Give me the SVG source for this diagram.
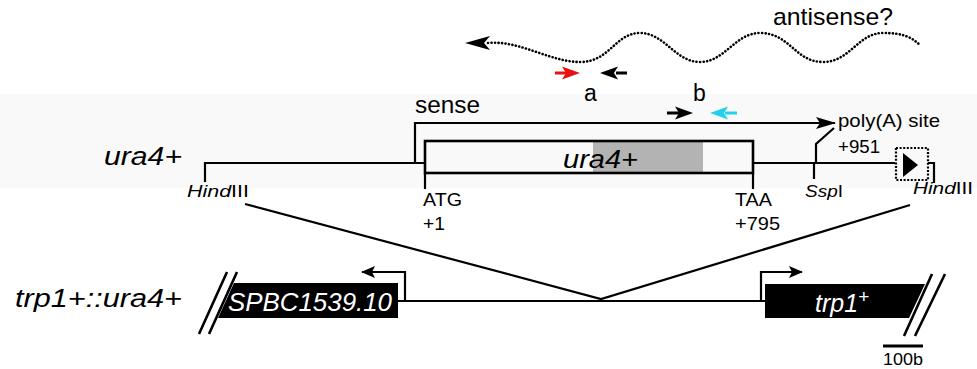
<svg xmlns="http://www.w3.org/2000/svg" width="977" height="369" viewBox="0 0 977 369">
<style>
  text { font-family: "Liberation Sans", Arial, sans-serif; fill: #000; }
  .it { font-style: italic; }
  .ln { stroke: #000; stroke-width: 2.2; fill: none; }
  .thick { stroke: #000; stroke-width: 2.6; fill: none; }
  .dots { stroke: #000; stroke-width: 2.6; fill: none; stroke-linecap: round; stroke-dasharray: 0.1 3.4; }
</style>
<defs>
  <marker id="ah" viewBox="0 0 20 12" refX="19" refY="6" markerWidth="20" markerHeight="12" markerUnits="userSpaceOnUse" orient="auto">
    <path d="M0,0 L20,6 L0,12 L4,6 Z" fill="#000"/>
  </marker>
  <marker id="ahs" viewBox="0 0 14 12" refX="13" refY="6" markerWidth="14" markerHeight="12" markerUnits="userSpaceOnUse" orient="auto">
    <path d="M0,0 L14,6 L0,12 L3,6 Z" fill="#000"/>
  </marker>
</defs>
<rect x="0" y="94" width="977" height="94" fill="#f9f9f9"/>

<g id="antisense">
  <path class="dots" d="M 488 43 C 520 40, 550 62, 580 62 C 610 62, 615 33, 640 33 C 665 33, 675 62, 700 62 C 725 62, 735 33, 760 33 C 790 33, 795 62, 823 62 C 850 62, 858 33, 883 33 C 905 33, 912 38, 920 45"/>
  <path d="M465,43 L490,36 L484,43 L490,50 Z" fill="#000"/>
  <text x="773" y="25" font-size="24" textLength="120" lengthAdjust="spacingAndGlyphs">antisense?</text>
</g>

<g id="primers-a">
  <path d="M555,73 L566,73" stroke="#e81010" stroke-width="3"/>
  <path d="M580,73 L562,66.5 L566,73 L562,79.5 Z" fill="#e81010"/>
  <path d="M616,73 L627,73" stroke="#000" stroke-width="3"/>
  <path d="M600,73 L618,66.5 L614,73 L618,79.5 Z" fill="#000"/>
  <text x="584" y="101" font-size="23">a</text>
</g>
<g id="primers-b">
  <path d="M667,113 L679,113" stroke="#000" stroke-width="3"/>
  <path d="M693,113 L675,106.5 L679,113 L675,119.5 Z" fill="#000"/>
  <path d="M725,113 L737,113" stroke="#22d0ec" stroke-width="3"/>
  <path d="M710,113 L728,106.5 L724,113 L728,119.5 Z" fill="#22d0ec"/>
  <text x="693" y="101" font-size="23">b</text>
</g>

<g id="sense">
  <path class="ln" d="M415,163 L415,123 L835,123" marker-end="url(#ah)"/>
  <text x="415" y="113" font-size="23" textLength="65" lengthAdjust="spacingAndGlyphs">sense</text>
</g>

<g id="ura4-locus">
  <text class="it" x="104" y="165" font-size="25" textLength="78" lengthAdjust="spacingAndGlyphs">ura4+</text>
  <path class="ln" d="M205,182 L205,163 L425,163"/>
  <path class="ln" d="M753,163 L895,163"/>
  <rect x="593" y="142" width="110" height="30" fill="#b3b3b3"/>
  <rect x="425" y="141" width="328" height="32" class="thick"/>
  <text class="it" x="563" y="168" font-size="25" textLength="75" lengthAdjust="spacingAndGlyphs">ura4+</text>
  <path class="ln" d="M425,173 L425,189"/>
  <path class="ln" d="M753,173 L753,189"/>
  <text x="423" y="206" font-size="18" textLength="39" lengthAdjust="spacingAndGlyphs">ATG</text>
  <text x="423" y="230" font-size="18" textLength="22" lengthAdjust="spacingAndGlyphs">+1</text>
  <text x="735" y="206" font-size="18" textLength="37" lengthAdjust="spacingAndGlyphs">TAA</text>
  <text x="735" y="230" font-size="18" textLength="45" lengthAdjust="spacingAndGlyphs">+795</text>
  <text x="187" y="197" font-size="17" textLength="62" lengthAdjust="spacingAndGlyphs"><tspan class="it">Hind</tspan>III</text>
  <path class="ln" d="M814,163 L814,179"/>
  <path class="ln" d="M816,163 L816,144 L834,128"/>
  <text x="838" y="127" font-size="19" textLength="102" lengthAdjust="spacingAndGlyphs">poly(A) site</text>
  <text x="838" y="153" font-size="19" textLength="42" lengthAdjust="spacingAndGlyphs">+951</text>
  <text x="805" y="197" font-size="17" textLength="38" lengthAdjust="spacingAndGlyphs"><tspan class="it">Ssp</tspan>I</text>
  <rect x="896" y="148" width="32" height="32" fill="none" stroke="#000" stroke-width="2.2" stroke-dasharray="2 1.6"/>
  <path d="M903,153 L903,177 L918,165 Z" fill="#000"/>
  <path class="ln" d="M928,163 L934,163 L934,183"/>
  <text x="913" y="194" font-size="17" textLength="60" lengthAdjust="spacingAndGlyphs"><tspan class="it">Hind</tspan>III</text>
</g>

<g id="connectors">
  <path class="ln" d="M245,204 L601,299 L910,205"/>
</g>

<g id="trp1-locus">
  <text class="it" x="15" y="307" font-size="25" textLength="167" lengthAdjust="spacingAndGlyphs">trp1+::ura4+</text>
  <path class="thick" d="M199,334 L227,272 M209,334 L237,272"/>
  <path d="M234,283 L398,283 L398,318 L218,318 Z" fill="#000"/>
  <text class="it" x="228" y="311" font-size="25" textLength="164" lengthAdjust="spacingAndGlyphs" style="fill:#fff">SPBC1539.10</text>
  <path class="ln" d="M398,301 L765,301"/>
  <path class="ln" d="M405,301 L405,272 L362,272" marker-end="url(#ahs)"/>
  <path class="ln" d="M761,301 L761,272 L802,272" marker-end="url(#ahs)"/>
  <path d="M765,284 L925,284 L909,318 L765,318 Z" fill="#000"/>
  <text class="it" x="815" y="312" font-size="25" style="fill:#fff">trp1<tspan font-size="19" dy="-9" style="fill:#fff">+</tspan></text>
  <path class="thick" d="M904,336 L932,274 M915,336 L945,274"/>
  <path d="M883,346 L923,346" stroke="#000" stroke-width="3"/>
  <text x="883" y="365" font-size="17" textLength="40" lengthAdjust="spacingAndGlyphs">100b</text>
</g>
</svg>
